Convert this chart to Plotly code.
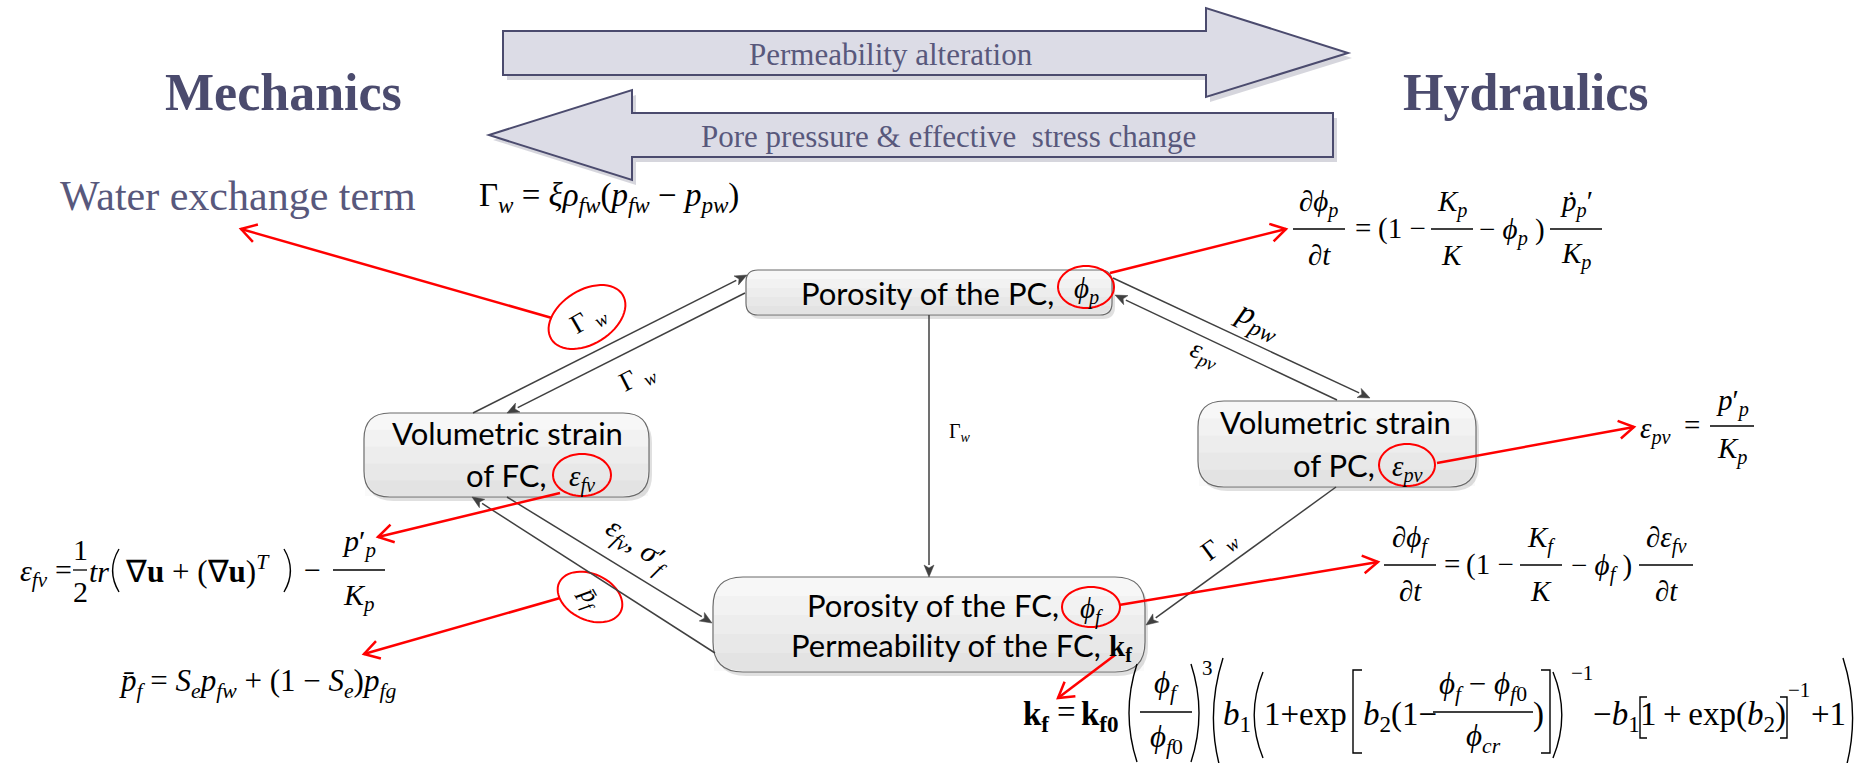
import math
import plotly.graph_objects as go

# ------------------------------------------------------------------ text content
side_titles = ["Mechanics", "Hydraulics"]
flow_texts = ["Permeability alteration", "Pore pressure &amp; effective  stress change"]
exchange_text = "Water exchange term"
exchange_eq = ("Γ<sub><i>w</i></sub> = <i>ξρ</i><sub><i>fw</i></sub>(<i>p</i><sub><i>fw</i></sub>"
               " − <i>p</i><sub><i>pw</i></sub>)")

node_line1 = ["Porosity of the PC,", "Volumetric strain", "Volumetric strain", "Porosity of the FC,"]
node_line2 = ["", "of FC,", "of PC,", "Permeability of the FC,"]
node_vars = ["<i>ϕ</i><sub><i>p</i></sub>", "<i>ε</i><sub><i>fv</i></sub>",
             "<i>ε</i><sub><i>pv</i></sub>", "<i>ϕ</i><sub><i>f</i></sub>"]
kf_symbol = "<b>k</b><sub><b>f</b></sub>"

link_labels = ["Γ <sub><i>w</i></sub>", "<i>p</i><sub><i>pw</i></sub>", "<i>ε</i><sub><i>pv</i></sub>",
               "Γ<sub><i>w</i></sub>", "Γ <sub><i>w</i></sub>",
               "<i>ε</i><sub><i>fv</i></sub>, <i>σ</i>′<sub><i>f</i></sub>"]
circled_labels = ["Γ <sub><i>w</i></sub>", "<i>p̄</i><sub><i>f</i></sub>"]

eq_phi_p = ["∂<i>ϕ</i><sub><i>p</i></sub>", "∂<i>t</i>", "=", "(1 −", "<i>K</i><sub><i>p</i></sub>", "<i>K</i>",
            "− <i>ϕ</i><sub><i>p</i></sub> )", "<i>ṗ</i><sub><i>p</i></sub>′", "<i>K</i><sub><i>p</i></sub>"]
eq_phi_f = ["∂<i>ϕ</i><sub><i>f</i></sub>", "∂<i>t</i>", "=", "(1 −", "<i>K</i><sub><i>f</i></sub>", "<i>K</i>",
            "− <i>ϕ</i><sub><i>f</i></sub> )", "∂<i>ε</i><sub><i>fv</i></sub>", "∂<i>t</i>"]
eq_eps_pv = ["<i>ε</i><sub><i>pv</i></sub>", "=", "<i>p</i>′<sub><i>p</i></sub>", "<i>K</i><sub><i>p</i></sub>"]
eq_eps_fv = ["<i>ε</i><sub><i>fv</i></sub>", "=", "1", "2", "<i>tr</i>",
             "∇<b>u</b> + (∇<b>u</b>)<sup><i>T</i></sup>", "−", "<i>p</i>′<sub><i>p</i></sub>",
             "<i>K</i><sub><i>p</i></sub>"]
eq_pbar = ("<i>p̄</i><sub><i>f</i></sub> = <i>S</i><sub><i>e</i></sub><i>p</i><sub><i>fw</i></sub>"
           " + (1 − <i>S</i><sub><i>e</i></sub>)<i>p</i><sub><i>fg</i></sub>")
eq_kf = ["<b>k</b><sub><b>f</b></sub>", "=", "<b>k</b><sub><b>f0</b></sub>",
         "<i>ϕ</i><sub><i>f</i></sub>", "<i>ϕ</i><sub><i>f</i>0</sub>", "3",
         "<i>b</i><sub>1</sub>", "1+exp", "<i>b</i><sub>2</sub>(1−",
         "<i>ϕ</i><sub><i>f</i></sub> − <i>ϕ</i><sub><i>f</i>0</sub>", "<i>ϕ</i><sub><i>cr</i></sub>", ")",
         "−1", "−<i>b</i><sub>1</sub>", "1\u2009+\u2009exp(<i>b</i><sub>2</sub>)", "−1", "+1"]

# ------------------------------------------------------------------ styles
SERIF = "Liberation Serif"
SANS = "Lato"
INK = "#404040"
RED = "#ff0000"
SLATE = "#4b4b6e"
SLATE_TXT = "#58587c"

shapes = []
annotations = []


def label(x, y, s, size=28, family=SERIF, color="black", angle=0, xanchor="center"):
    annotations.append(dict(x=x, y=y, text=s, showarrow=False, textangle=angle,
                            xanchor=xanchor, yanchor="middle",
                            font=dict(family=family, size=size, color=color)))


def arrow(x0, y0, x1, y1, color=INK, width=1.5, kind="solid"):
    L = math.hypot(x1 - x0, y1 - y0)
    ux, uy = (x1 - x0) / L, (y1 - y0) / L
    px, py = -uy, ux
    if kind == "solid":
        bx, by = x1 - ux * 12, y1 - uy * 12
        shapes.append(dict(type="line", x0=x0, y0=y0, x1=bx, y1=by, line=dict(color=color, width=width)))
        tri = (f"M{x1:.1f},{y1:.1f} L{bx + px * 5:.1f},{by + py * 5:.1f} "
               f"L{x1 - ux * 9:.1f},{y1 - uy * 9:.1f} L{bx - px * 5:.1f},{by - py * 5:.1f} Z")
        shapes.append(dict(type="path", path=tri, fillcolor=color, line=dict(color=color, width=0.5)))
    else:
        shapes.append(dict(type="line", x0=x0, y0=y0, x1=x1, y1=y1, line=dict(color=color, width=width)))
        chev = (f"M{x1 - ux * 15 + px * 9:.1f},{y1 - uy * 15 + py * 9:.1f} L{x1:.1f},{y1:.1f} "
                f"L{x1 - ux * 15 - px * 9:.1f},{y1 - uy * 15 - py * 9:.1f}")
        shapes.append(dict(type="path", path=chev, line=dict(color=color, width=width)))


def hline(x0, x1, y, width=1.3):
    shapes.append(dict(type="line", x0=x0, x1=x1, y0=y, y1=y, line=dict(color="black", width=width)))


def frac(xc, ybar, num, den, half, gap=26, size=28):
    label(xc, ybar - gap, num, size)
    label(xc, ybar + gap, den, size)
    hline(xc - half, xc + half, ybar)


def paren(xa, xb, y0, y1, side):
    ym = (y0 + y1) / 2
    if side == "l":
        p = f"M{xb},{y0} Q{xa - (xb - xa) * 0.6},{ym} {xb},{y1}"
    else:
        p = f"M{xa},{y0} Q{xb + (xb - xa) * 0.6},{ym} {xa},{y1}"
    shapes.append(dict(type="path", path=p, line=dict(color="black", width=1.4)))


def bracket(xa, xb, y0, y1, side):
    if side == "l":
        p = f"M{xb},{y0} L{xa},{y0} L{xa},{y1} L{xb},{y1}"
    else:
        p = f"M{xa},{y0} L{xb},{y0} L{xb},{y1} L{xa},{y1}"
    shapes.append(dict(type="path", path=p, line=dict(color="black", width=1.4)))


def rbox_path(x0, y0, x1, y1, r):
    return (f"M{x0 + r},{y0} L{x1 - r},{y0} Q{x1},{y0} {x1},{y0 + r} L{x1},{y1 - r} "
            f"Q{x1},{y1} {x1 - r},{y1} L{x0 + r},{y1} Q{x0},{y1} {x0},{y1 - r} "
            f"L{x0},{y0 + r} Q{x0},{y0} {x0 + r},{y0} Z")


def node_box(x0, y0, x1, y1, r):
    shapes.append(dict(type="path", path=rbox_path(x0 + 3, y0 + 4, x1 + 3, y1 + 4, r),
                       fillcolor="rgba(0,0,0,0.12)", line=dict(width=0)))
    shapes.append(dict(type="path", path=rbox_path(x0, y0, x1, y1, r),
                       fillcolor="#f7f7f7", line=dict(width=0)))
    # soft vertical shading, stand-in for the gradient fill
    for k in range(1, 5):
        yk = y0 + (y1 - y0) * k / 5
        shapes.append(dict(type="path",
                           path=(f"M{x0 + 1},{yk} L{x1 - 1},{yk} L{x1 - 1},{y1 - r} Q{x1 - 1},{y1 - 1} "
                                 f"{x1 - r},{y1 - 1} L{x0 + r},{y1 - 1} Q{x0 + 1},{y1 - 1} {x0 + 1},{y1 - r} Z"
                                 if yk < y1 - r else rbox_path(x0 + 1, yk, x1 - 1, y1 - 1, 0)),
                           fillcolor="rgba(0,0,0,0.018)", line=dict(width=0)))
    shapes.append(dict(type="path", path=rbox_path(x0, y0, x1, y1, r),
                       fillcolor="rgba(0,0,0,0)", line=dict(color="#6a6a6a", width=1.2)))


def ring(cx, cy, a, b, deg=0.0):
    t = math.radians(deg)
    pts = []
    for k in range(61):
        u = 2 * math.pi * k / 60
        px = cx + a * math.cos(u) * math.cos(t) - b * math.sin(u) * math.sin(t)
        py = cy + a * math.cos(u) * math.sin(t) + b * math.sin(u) * math.cos(t)
        pts.append(f"{px:.1f},{py:.1f}")
    shapes.append(dict(type="path", path="M" + " L".join(pts) + " Z",
                       line=dict(color=RED, width=2)))


# ------------------------------------------------------------------ big flow arrows
right_arrow = "M503,31 L1206,31 L1206,8 L1348,53 L1206,97 L1206,75 L503,75 Z"
left_arrow = "M1333,113 L632,113 L632,90 L489,135 L632,180 L632,157 L1333,157 Z"
right_shadow = "M507,36 L1210,36 L1210,13 L1352,58 L1210,102 L1210,80 L507,80 Z"
left_shadow = "M1337,118 L636,118 L636,95 L493,140 L636,185 L636,162 L1337,162 Z"
for p in (right_shadow, left_shadow):
    shapes.append(dict(type="path", path=p, fillcolor="rgba(70,70,100,0.22)", line=dict(width=0)))
for p in (right_arrow, left_arrow):
    shapes.append(dict(type="path", path=p, fillcolor="#dcdce6", line=dict(color=SLATE, width=2)))

label(891, 54, flow_texts[0], 31, SERIF, SLATE_TXT)
label(948, 136, flow_texts[1], 31, SERIF, SLATE_TXT)
label(283, 92, f"<b>{side_titles[0]}</b>", 52, SERIF, SLATE)
label(1526, 92, f"<b>{side_titles[1]}</b>", 52, SERIF, SLATE)
label(238, 196, exchange_text, 42, SERIF, SLATE_TXT)
label(477, 197, exchange_eq, 33, xanchor="left")

# ------------------------------------------------------------------ nodes
node_box(746, 270, 1112, 315, 12)
node_box(364, 413, 649, 497, 26)
node_box(1198, 401, 1476, 487, 26)
node_box(713, 577, 1145, 672, 30)

label(1056, 293, node_line1[0], 31, SANS, xanchor="right")
label(507, 433, node_line1[1], 31, SANS)
label(549, 475, node_line2[1], 31, SANS, xanchor="right")
label(1335, 422, node_line1[2], 31, SANS)
label(1377, 465, node_line2[2], 31, SANS, xanchor="right")
label(1061, 605, node_line1[3], 31, SANS, xanchor="right")
label(1103, 645, node_line2[3], 31, SANS, xanchor="right")
label(1120, 648, kf_symbol, 29)

# circled variables
ring(1086, 287, 28, 21)
ring(582, 475, 29, 21)
ring(1407, 465, 28, 21)
ring(1091, 607, 29, 20)
ring(587, 317, 42, 27, -32)
ring(590, 597, 34, 23, 25)
label(1086, 290, node_vars[0], 29)
label(582, 478, node_vars[1], 29)
label(1407, 468, node_vars[2], 29)
label(1091, 610, node_vars[3], 29)
label(588, 320, circled_labels[0], 27, angle=-30)
label(590, 598, circled_labels[1], 25, angle=60)

# ------------------------------------------------------------------ links
arrow(473, 413, 747, 275)
arrow(745, 293, 507, 413)
arrow(929, 315, 929, 577)
arrow(1113, 278, 1370, 398)
arrow(1337, 400, 1115, 295)
arrow(1336, 487, 1146, 625)
arrow(715, 653, 472, 497)
arrow(507, 497, 712, 623)

label(637, 378, link_labels[0], 27, angle=-27)
label(1258, 320, link_labels[1], 33, angle=25)
label(1204, 354, link_labels[2], 27, angle=22)
label(960, 432, link_labels[3], 20)
label(1219, 546, link_labels[4], 27, angle=-36)
label(638, 546, link_labels[5], 30, angle=35)

# red pointers
for x0, y0, x1, y1 in [(552, 318, 241, 229), (1110, 273, 1286, 229), (1437, 463, 1634, 427),
                       (1119, 605, 1378, 562), (1115, 655, 1058, 698), (560, 493, 378, 537),
                       (560, 598, 364, 654)]:
    arrow(x0, y0, x1, y1, RED, 2.5, "open")

# ------------------------------------------------------------------ equations
# d(phi_p)/dt
frac(1319, 229, eq_phi_p[0], eq_phi_p[1], 26, size=29)
label(1363, 228, eq_phi_p[2], 29)
label(1402, 228, eq_phi_p[3], 29)
frac(1452, 229, eq_phi_p[4], eq_phi_p[5], 21, size=29)
label(1512, 231, eq_phi_p[6], 29)
frac(1576, 229, eq_phi_p[7], eq_phi_p[8], 26, size=29)

# d(phi_f)/dt
frac(1410, 565, eq_phi_f[0], eq_phi_f[1], 26, size=29)
label(1452, 564, eq_phi_f[2], 29)
label(1490, 564, eq_phi_f[3], 29)
frac(1541, 565, eq_phi_f[4], eq_phi_f[5], 21, size=29)
label(1601, 567, eq_phi_f[6], 29)
frac(1666, 565, eq_phi_f[7], eq_phi_f[8], 27, size=29)

# eps_pv
label(1655, 430, eq_eps_pv[0], 29)
label(1692, 425, eq_eps_pv[1], 29)
frac(1732, 426, eq_eps_pv[2], eq_eps_pv[3], 22, gap=24, size=29)

# eps_fv
label(34, 573, eq_eps_fv[0], 30)
label(63, 569, eq_eps_fv[1], 30)
frac(80, 570, eq_eps_fv[2], eq_eps_fv[3], 7, gap=21, size=30)
label(99, 571, eq_eps_fv[4], 30)
paren(111, 119, 549, 592, "l")
label(123, 569, eq_eps_fv[5], 31, xanchor="left")
paren(284, 292, 549, 592, "r")
label(312, 569, eq_eps_fv[6], 30)
frac(359, 570, eq_eps_fv[7], eq_eps_fv[8], 26, gap=27, size=30)

# p_bar
label(117, 683, eq_pbar, 31, xanchor="left")

# permeability of the FC
label(1036, 716, eq_kf[0], 33)
label(1066, 712, eq_kf[1], 33)
label(1100, 716, eq_kf[2], 33)
paren(1127, 1137, 664, 762, "l")
frac(1166, 712, eq_kf[3], eq_kf[4], 26, gap=27, size=31)
paren(1191, 1201, 664, 762, "r")
label(1207, 668, eq_kf[5], 21)
paren(1211, 1223, 658, 778, "l")
label(1237, 716, eq_kf[6], 33)
paren(1252, 1263, 672, 758, "l")
label(1349, 714, eq_kf[7], 33, xanchor="right")
bracket(1353, 1362, 670, 753, "l")
label(1400, 716, eq_kf[8], 33)
frac(1483, 712, eq_kf[9], eq_kf[10], 50, gap=26, size=31)
label(1538, 714, eq_kf[11], 33)
bracket(1541, 1550, 670, 753, "r")
paren(1553, 1564, 672, 758, "r")
label(1582, 673, eq_kf[12], 21)
label(1616, 716, eq_kf[13], 33)
bracket(1640, 1647, 697, 738, "l")
label(1713, 716, eq_kf[14], 33)
bracket(1780, 1787, 697, 738, "r")
label(1799, 690, eq_kf[15], 21)
label(1828, 714, eq_kf[16], 33)
paren(1843, 1855, 658, 778, "r")

# ------------------------------------------------------------------ figure
fig = go.Figure()
fig.add_trace(go.Scatter(x=[0], y=[0], mode="markers", marker=dict(opacity=0), hoverinfo="skip",
                         showlegend=False))
fig.update_layout(
    width=1860, height=763,
    margin=dict(l=0, r=0, t=0, b=0),
    paper_bgcolor="white", plot_bgcolor="white",
    xaxis=dict(range=[0, 1860], visible=False, fixedrange=True),
    yaxis=dict(range=[763, 0], visible=False, fixedrange=True),
    shapes=shapes, annotations=annotations, showlegend=False,
)
fig.write_html("out.html", config={"displayModeBar": False},
               post_script="document.body.style.margin='0';document.body.style.overflow='hidden';")
